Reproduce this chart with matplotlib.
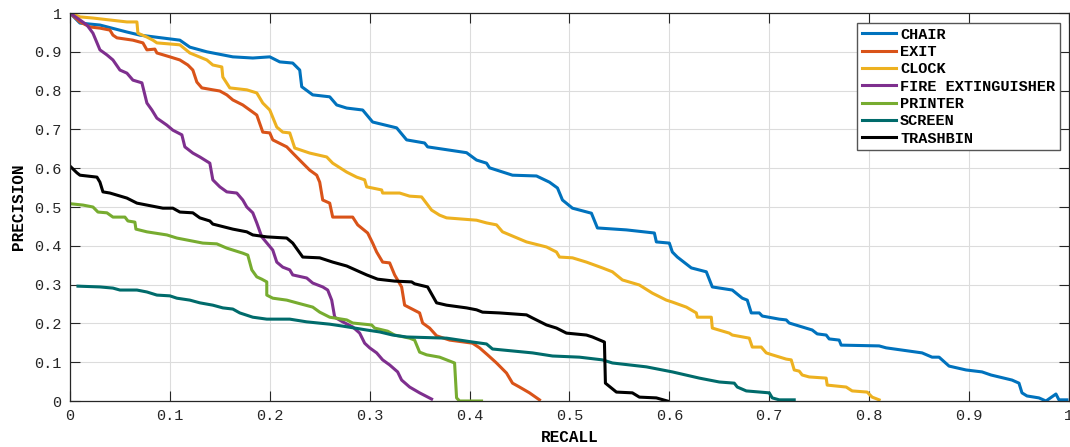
import matplotlib
matplotlib.use("Agg")
import matplotlib.pyplot as plt
import numpy as np

# recall / precision, one pair of lists per class
chair_r = [0, 0.01, 0.03, 0.057, 0.07, 0.11, 0.12, 0.137, 0.163, 0.183, 0.2, 0.21, 0.223, 0.23, 0.232, 0.243, 0.26, 0.267, 0.277, 0.293, 0.303, 0.327, 0.337, 0.355, 0.358, 0.397, 0.407, 0.417, 0.42, 0.443, 0.467, 0.48, 0.488, 0.493, 0.503, 0.522, 0.528, 0.557, 0.585, 0.587, 0.6, 0.603, 0.608, 0.622, 0.637, 0.643, 0.663, 0.673, 0.678, 0.682, 0.69, 0.693, 0.71, 0.717, 0.72, 0.743, 0.748, 0.757, 0.76, 0.77, 0.772, 0.81, 0.817, 0.853, 0.863, 0.87, 0.88, 0.897, 0.913, 0.922, 0.943, 0.95, 0.953, 0.958, 0.97, 0.977, 0.987, 0.99, 0.998]
chair_p = [1.0, 0.974, 0.969, 0.951, 0.943, 0.930, 0.912, 0.900, 0.887, 0.884, 0.887, 0.874, 0.871, 0.853, 0.810, 0.789, 0.784, 0.763, 0.755, 0.750, 0.719, 0.704, 0.673, 0.665, 0.655, 0.640, 0.621, 0.613, 0.601, 0.582, 0.580, 0.564, 0.549, 0.518, 0.497, 0.484, 0.446, 0.441, 0.433, 0.410, 0.407, 0.384, 0.371, 0.343, 0.333, 0.294, 0.286, 0.265, 0.260, 0.227, 0.227, 0.219, 0.211, 0.209, 0.201, 0.183, 0.173, 0.170, 0.160, 0.157, 0.144, 0.142, 0.137, 0.124, 0.113, 0.113, 0.090, 0.080, 0.075, 0.067, 0.054, 0.046, 0.021, 0.013, 0.008, 0.0, 0.018, 0.003, 0.003]

exit_r = [0, 0.01, 0.02, 0.03, 0.04, 0.043, 0.047, 0.063, 0.073, 0.077, 0.085, 0.087, 0.1, 0.11, 0.118, 0.123, 0.127, 0.132, 0.143, 0.15, 0.157, 0.163, 0.173, 0.187, 0.193, 0.2, 0.203, 0.217, 0.223, 0.233, 0.24, 0.247, 0.25, 0.253, 0.26, 0.263, 0.283, 0.288, 0.298, 0.303, 0.307, 0.313, 0.32, 0.325, 0.332, 0.335, 0.35, 0.353, 0.36, 0.367, 0.38, 0.403, 0.41, 0.418, 0.427, 0.437, 0.443, 0.45, 0.46, 0.47]
exit_p = [1.0, 0.977, 0.964, 0.961, 0.956, 0.943, 0.936, 0.930, 0.923, 0.905, 0.907, 0.897, 0.887, 0.879, 0.866, 0.853, 0.822, 0.807, 0.802, 0.799, 0.789, 0.776, 0.763, 0.737, 0.693, 0.691, 0.673, 0.655, 0.639, 0.613, 0.595, 0.582, 0.564, 0.518, 0.510, 0.474, 0.474, 0.454, 0.433, 0.407, 0.384, 0.358, 0.356, 0.325, 0.294, 0.247, 0.227, 0.201, 0.188, 0.168, 0.157, 0.149, 0.137, 0.119, 0.098, 0.072, 0.046, 0.036, 0.021, 0.003]

clock_r = [0, 0.01, 0.023, 0.04, 0.057, 0.067, 0.068, 0.077, 0.083, 0.087, 0.11, 0.12, 0.137, 0.143, 0.152, 0.153, 0.16, 0.177, 0.187, 0.193, 0.2, 0.207, 0.213, 0.22, 0.225, 0.24, 0.257, 0.263, 0.277, 0.287, 0.295, 0.297, 0.312, 0.313, 0.33, 0.34, 0.352, 0.362, 0.37, 0.377, 0.407, 0.417, 0.427, 0.433, 0.457, 0.477, 0.487, 0.49, 0.503, 0.517, 0.533, 0.543, 0.553, 0.57, 0.583, 0.597, 0.603, 0.617, 0.627, 0.628, 0.642, 0.643, 0.66, 0.663, 0.68, 0.683, 0.692, 0.697, 0.703, 0.717, 0.722, 0.725, 0.73, 0.733, 0.74, 0.757, 0.758, 0.777, 0.783, 0.798, 0.803, 0.81]
clock_p = [1.0, 0.99, 0.987, 0.982, 0.977, 0.977, 0.948, 0.938, 0.930, 0.923, 0.918, 0.897, 0.879, 0.866, 0.861, 0.835, 0.807, 0.802, 0.794, 0.768, 0.750, 0.706, 0.693, 0.691, 0.652, 0.639, 0.629, 0.613, 0.590, 0.577, 0.570, 0.552, 0.544, 0.536, 0.536, 0.528, 0.526, 0.492, 0.479, 0.472, 0.466, 0.459, 0.454, 0.436, 0.410, 0.397, 0.384, 0.371, 0.369, 0.358, 0.343, 0.333, 0.312, 0.299, 0.278, 0.260, 0.255, 0.242, 0.227, 0.216, 0.216, 0.188, 0.175, 0.170, 0.162, 0.139, 0.139, 0.124, 0.119, 0.108, 0.106, 0.080, 0.077, 0.067, 0.062, 0.059, 0.041, 0.036, 0.026, 0.023, 0.010, 0.003]

fire_r = [0, 0.01, 0.017, 0.023, 0.03, 0.037, 0.043, 0.05, 0.057, 0.063, 0.072, 0.077, 0.082, 0.087, 0.097, 0.103, 0.112, 0.115, 0.123, 0.13, 0.14, 0.143, 0.15, 0.157, 0.167, 0.173, 0.177, 0.183, 0.187, 0.192, 0.203, 0.207, 0.213, 0.22, 0.223, 0.237, 0.243, 0.253, 0.258, 0.262, 0.265, 0.273, 0.283, 0.29, 0.295, 0.3, 0.307, 0.313, 0.32, 0.328, 0.332, 0.34, 0.35, 0.362]
fire_p = [1.0, 0.982, 0.969, 0.948, 0.905, 0.892, 0.879, 0.853, 0.845, 0.827, 0.820, 0.768, 0.750, 0.729, 0.711, 0.698, 0.686, 0.655, 0.639, 0.629, 0.613, 0.570, 0.552, 0.539, 0.536, 0.518, 0.500, 0.485, 0.459, 0.423, 0.389, 0.358, 0.345, 0.338, 0.325, 0.317, 0.304, 0.294, 0.286, 0.260, 0.216, 0.204, 0.191, 0.175, 0.149, 0.137, 0.124, 0.106, 0.093, 0.075, 0.054, 0.036, 0.021, 0.005]

printer_r = [0.002, 0.013, 0.023, 0.028, 0.037, 0.043, 0.055, 0.058, 0.065, 0.066, 0.077, 0.097, 0.107, 0.123, 0.133, 0.147, 0.157, 0.173, 0.178, 0.182, 0.187, 0.192, 0.197, 0.197, 0.203, 0.217, 0.227, 0.243, 0.25, 0.26, 0.277, 0.283, 0.302, 0.305, 0.318, 0.325, 0.34, 0.345, 0.35, 0.357, 0.37, 0.377, 0.385, 0.387, 0.39, 0.412]
printer_p = [0.508, 0.505, 0.5, 0.487, 0.485, 0.474, 0.474, 0.464, 0.461, 0.443, 0.436, 0.428, 0.420, 0.412, 0.407, 0.405, 0.394, 0.381, 0.376, 0.338, 0.320, 0.314, 0.307, 0.273, 0.265, 0.260, 0.253, 0.242, 0.229, 0.216, 0.209, 0.201, 0.196, 0.188, 0.180, 0.170, 0.162, 0.157, 0.126, 0.119, 0.113, 0.106, 0.098, 0.008, 0.0, 0.0]

screen_r = [0.008, 0.03, 0.043, 0.05, 0.067, 0.077, 0.087, 0.1, 0.107, 0.12, 0.13, 0.143, 0.153, 0.163, 0.17, 0.183, 0.197, 0.22, 0.237, 0.26, 0.273, 0.297, 0.31, 0.323, 0.337, 0.377, 0.403, 0.417, 0.423, 0.443, 0.463, 0.483, 0.51, 0.533, 0.543, 0.577, 0.603, 0.63, 0.65, 0.665, 0.668, 0.677, 0.7, 0.703, 0.71, 0.725]
screen_p = [0.296, 0.294, 0.291, 0.286, 0.286, 0.281, 0.273, 0.271, 0.265, 0.260, 0.253, 0.247, 0.240, 0.237, 0.227, 0.216, 0.211, 0.211, 0.204, 0.198, 0.193, 0.183, 0.178, 0.170, 0.165, 0.162, 0.152, 0.147, 0.134, 0.129, 0.124, 0.116, 0.113, 0.106, 0.098, 0.088, 0.075, 0.059, 0.049, 0.046, 0.036, 0.026, 0.021, 0.008, 0.003, 0.003]

trash_r = [0.001, 0.007, 0.01, 0.027, 0.03, 0.033, 0.04, 0.057, 0.067, 0.077, 0.093, 0.103, 0.11, 0.123, 0.13, 0.14, 0.143, 0.163, 0.177, 0.183, 0.197, 0.217, 0.223, 0.233, 0.25, 0.263, 0.277, 0.29, 0.297, 0.308, 0.325, 0.342, 0.345, 0.358, 0.367, 0.377, 0.397, 0.407, 0.413, 0.43, 0.457, 0.463, 0.477, 0.487, 0.497, 0.517, 0.523, 0.535, 0.536, 0.547, 0.563, 0.57, 0.587, 0.598]
trash_p = [0.603, 0.588, 0.582, 0.577, 0.564, 0.539, 0.536, 0.523, 0.510, 0.505, 0.497, 0.497, 0.487, 0.485, 0.472, 0.464, 0.456, 0.443, 0.436, 0.428, 0.423, 0.420, 0.407, 0.371, 0.369, 0.358, 0.348, 0.333, 0.325, 0.314, 0.309, 0.307, 0.302, 0.294, 0.253, 0.247, 0.240, 0.235, 0.229, 0.227, 0.222, 0.214, 0.196, 0.188, 0.175, 0.170, 0.165, 0.152, 0.046, 0.023, 0.021, 0.010, 0.008, 0.0]

labels = ['CHAIR', 'EXIT', 'CLOCK', 'FIRE EXTINGUISHER', 'PRINTER', 'SCREEN', 'TRASHBIN']
colors = ['#0072BD', '#D95319', '#EDB120', '#7E2F8E', '#77AC30', '#006B6B', '#000000']
curves = [(chair_r, chair_p), (exit_r, exit_p), (clock_r, clock_p), (fire_r, fire_p),
          (printer_r, printer_p), (screen_r, screen_p), (trash_r, trash_p)]

plt.rcParams['font.family'] = ['Liberation Mono', 'DejaVu Sans Mono']

fig = plt.figure(figsize=(10.7, 4.47), dpi=100)
ax = fig.add_axes([0.0654, 0.1029, 0.9336, 0.868])

for (r, p), lab, c in zip(curves, labels, colors):
    ax.plot(r, p, color=c, lw=2.2, label=lab)

ax.set_xlim(0, 1)
ax.set_ylim(0, 1)
ticks = np.round(np.arange(0, 1.01, 0.1), 1)
tick_txt = ['0'] + ['%.1f' % t for t in ticks[1:-1]] + ['1']
ax.set_xticks(ticks)
ax.set_xticklabels(tick_txt)
ax.set_yticks(ticks)
ax.set_yticklabels(tick_txt)
ax.tick_params(direction='in', length=7, width=0.8, top=True, right=True,
               labelsize=11, colors='#262626', pad=6)
ax.grid(True, color='#dcdcdc', lw=0.8)
ax.set_axisbelow(True)
for s in ax.spines.values():
    s.set_color('#262626')
    s.set_linewidth(0.9)

ax.set_xlabel('RECALL', fontsize=11.5, fontweight='bold', labelpad=5)
ax.set_ylabel('PRECISION', fontsize=11.5, fontweight='bold', labelpad=6)

leg = ax.legend(loc='upper right', bbox_to_anchor=(0.991, 0.974),
                prop={'weight': 'bold', 'size': 11}, fancybox=False, framealpha=1,
                edgecolor='#555555', handlelength=2.2, handletextpad=0.3,
                labelspacing=0.22, borderpad=0.3, borderaxespad=0)
leg.get_frame().set_linewidth(1.0)

fig.savefig('out.png', dpi=100)
